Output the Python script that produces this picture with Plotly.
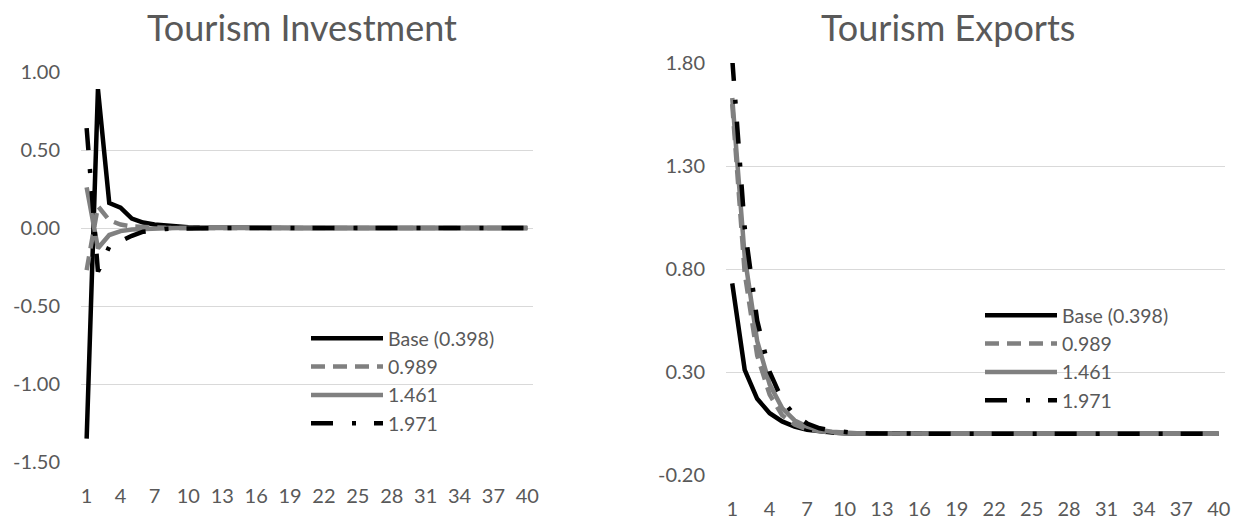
import plotly.graph_objects as go

W, H = 1233, 529

periods = list(range(1, 41))
x_tick_labels = ["1", "4", "7", "10", "13", "16", "19", "22", "25", "28", "31", "34", "37", "40"]
x_tick_vals = [1, 4, 7, 10, 13, 16, 19, 22, 25, 28, 31, 34, 37, 40]

series_names = ["Base (0.398)", "0.989", "1.461", "1.971"]

# Tourism Investment
inv_base = [-1.35, 0.89, 0.16, 0.13, 0.06, 0.035, 0.022, 0.014, 0.008, 0.005,
            0.003, 0.002, 0.001, 0, 0, 0, 0, 0, 0, 0,
            0, 0, 0, 0, 0, 0, 0, 0, 0, 0,
            0, 0, 0, 0, 0, 0, 0, 0, 0, 0]
inv_0989 = [-0.27, 0.14, 0.05, 0.022, 0.010, 0.005, 0.002, 0.001, 0, 0,
            0, 0, 0, 0, 0, 0, 0, 0, 0, 0,
            0, 0, 0, 0, 0, 0, 0, 0, 0, 0,
            0, 0, 0, 0, 0, 0, 0, 0, 0, 0]
inv_1461 = [0.26, -0.13, -0.045, -0.02, -0.01, -0.005, -0.002, -0.001, 0, 0,
            0, 0, 0, 0, 0, 0, 0, 0, 0, 0,
            0, 0, 0, 0, 0, 0, 0, 0, 0, 0,
            0, 0, 0, 0, 0, 0, 0, 0, 0, 0]
inv_1971 = [0.64, -0.28, -0.12, -0.085, -0.05, -0.024, -0.012, -0.006, -0.003, -0.001,
            0, 0, 0, 0, 0, 0, 0, 0, 0, 0,
            0, 0, 0, 0, 0, 0, 0, 0, 0, 0,
            0, 0, 0, 0, 0, 0, 0, 0, 0, 0]

# Tourism Exports
exp_base = [0.73, 0.31, 0.17, 0.10, 0.06, 0.035, 0.02, 0.011, 0.006, 0.003,
            0.002, 0.001, 0, 0, 0, 0, 0, 0, 0, 0,
            0, 0, 0, 0, 0, 0, 0, 0, 0, 0,
            0, 0, 0, 0, 0, 0, 0, 0, 0, 0]
exp_0989 = [1.60, 0.78, 0.38, 0.19, 0.09, 0.045, 0.022, 0.011, 0.005, 0.003,
            0.001, 0, 0, 0, 0, 0, 0, 0, 0, 0,
            0, 0, 0, 0, 0, 0, 0, 0, 0, 0,
            0, 0, 0, 0, 0, 0, 0, 0, 0, 0]
exp_1461 = [1.63, 0.86, 0.45, 0.24, 0.125, 0.065, 0.035, 0.018, 0.010, 0.005,
            0.003, 0.001, 0, 0, 0, 0, 0, 0, 0, 0,
            0, 0, 0, 0, 0, 0, 0, 0, 0, 0,
            0, 0, 0, 0, 0, 0, 0, 0, 0, 0]
exp_1971 = [1.82, 1.00, 0.55, 0.30, 0.165, 0.09, 0.05, 0.027, 0.015, 0.008,
            0.004, 0.002, 0.001, 0, 0, 0, 0, 0, 0, 0,
            0, 0, 0, 0, 0, 0, 0, 0, 0, 0,
            0, 0, 0, 0, 0, 0, 0, 0, 0, 0]

inv_y_ticks = [-1.5, -1.0, -0.5, 0.0, 0.5, 1.0]
inv_y_labels = ["-1.50", "-1.00", "-0.50", "0.00", "0.50", "1.00"]
exp_y_ticks = [-0.2, 0.3, 0.8, 1.3, 1.8]
exp_y_labels = ["-0.20", "0.30", "0.80", "1.30", "1.80"]

styles = [
    dict(color="#000000", width=4.5, dash="solid"),
    dict(color="#808080", width=4.5, dash="14px,8px"),
    dict(color="#808080", width=4.5, dash="solid"),
    dict(color="#000000", width=4.5, dash="22px,19px,4px,18px"),
]

FONT = "Lato, 'Open Sans', sans-serif"
TXT = "#595959"
GRID = "#d9d9d9"
FS = 19.5

fig = go.Figure()

for name, ys, st in zip(series_names, [inv_base, inv_0989, inv_1461, inv_1971], styles):
    fig.add_trace(go.Scatter(x=periods, y=ys, mode="lines", name=name, line=st,
                             xaxis="x", yaxis="y", legend="legend"))
for name, ys, st in zip(series_names, [exp_base, exp_0989, exp_1461, exp_1971], styles):
    fig.add_trace(go.Scatter(x=periods, y=ys, mode="lines", name=name, line=st,
                             xaxis="x2", yaxis="y2", legend="legend2"))

def px_x(p):
    return p / W

def px_y(p):
    return 1 - p / H

xcommon = dict(range=[0.5, 40.5], tickmode="array", tickvals=x_tick_vals, ticktext=x_tick_labels,
               showgrid=False, zeroline=False, showline=False, ticks="",
               tickfont=dict(family=FONT, size=20, color=TXT), ticklabelstandoff=20,
               automargin=False)
ycommon = dict(showgrid=True, gridcolor=GRID, gridwidth=1.3, zeroline=False, showline=False,
               ticks="", tickfont=dict(family=FONT, size=20, color=TXT),
               ticklabelstandoff=20, automargin=False)

legcommon = dict(xanchor="left", yanchor="top",
                 font=dict(family=FONT, size=FS, color=TXT), bgcolor="rgba(0,0,0,0)",
                 itemwidth=72, tracegroupgap=0)

fig.update_layout(
    width=W, height=H,
    margin=dict(l=0, r=0, t=0, b=0),
    paper_bgcolor="white", plot_bgcolor="white",
    xaxis=dict(domain=[px_x(81), px_x(533)], anchor="y", **xcommon),
    yaxis=dict(domain=[px_y(462), px_y(72)], anchor="x", range=[-1.5, 1.0],
               tickmode="array", tickvals=inv_y_ticks, ticktext=inv_y_labels, **ycommon),
    xaxis2=dict(domain=[px_x(726), px_x(1225)], anchor="y2", **xcommon),
    yaxis2=dict(domain=[px_y(475), px_y(63)], anchor="x2", range=[-0.2, 1.8],
                tickmode="array", tickvals=exp_y_ticks, ticktext=exp_y_labels, **ycommon),
    legend=dict(x=px_x(306), y=px_y(319), **legcommon),
    legend2=dict(x=px_x(980), y=px_y(296), **legcommon),
    annotations=[
        dict(text="Tourism Investment", x=px_x(302), y=px_y(27), xref="paper", yref="paper",
             xanchor="center", yanchor="middle", showarrow=False,
             font=dict(family=FONT, size=36, color=TXT)),
        dict(text="Tourism Exports", x=px_x(948), y=px_y(27), xref="paper", yref="paper",
             xanchor="center", yanchor="middle", showarrow=False,
             font=dict(family=FONT, size=36, color=TXT)),
    ],
)

fig.write_html("out.html")
